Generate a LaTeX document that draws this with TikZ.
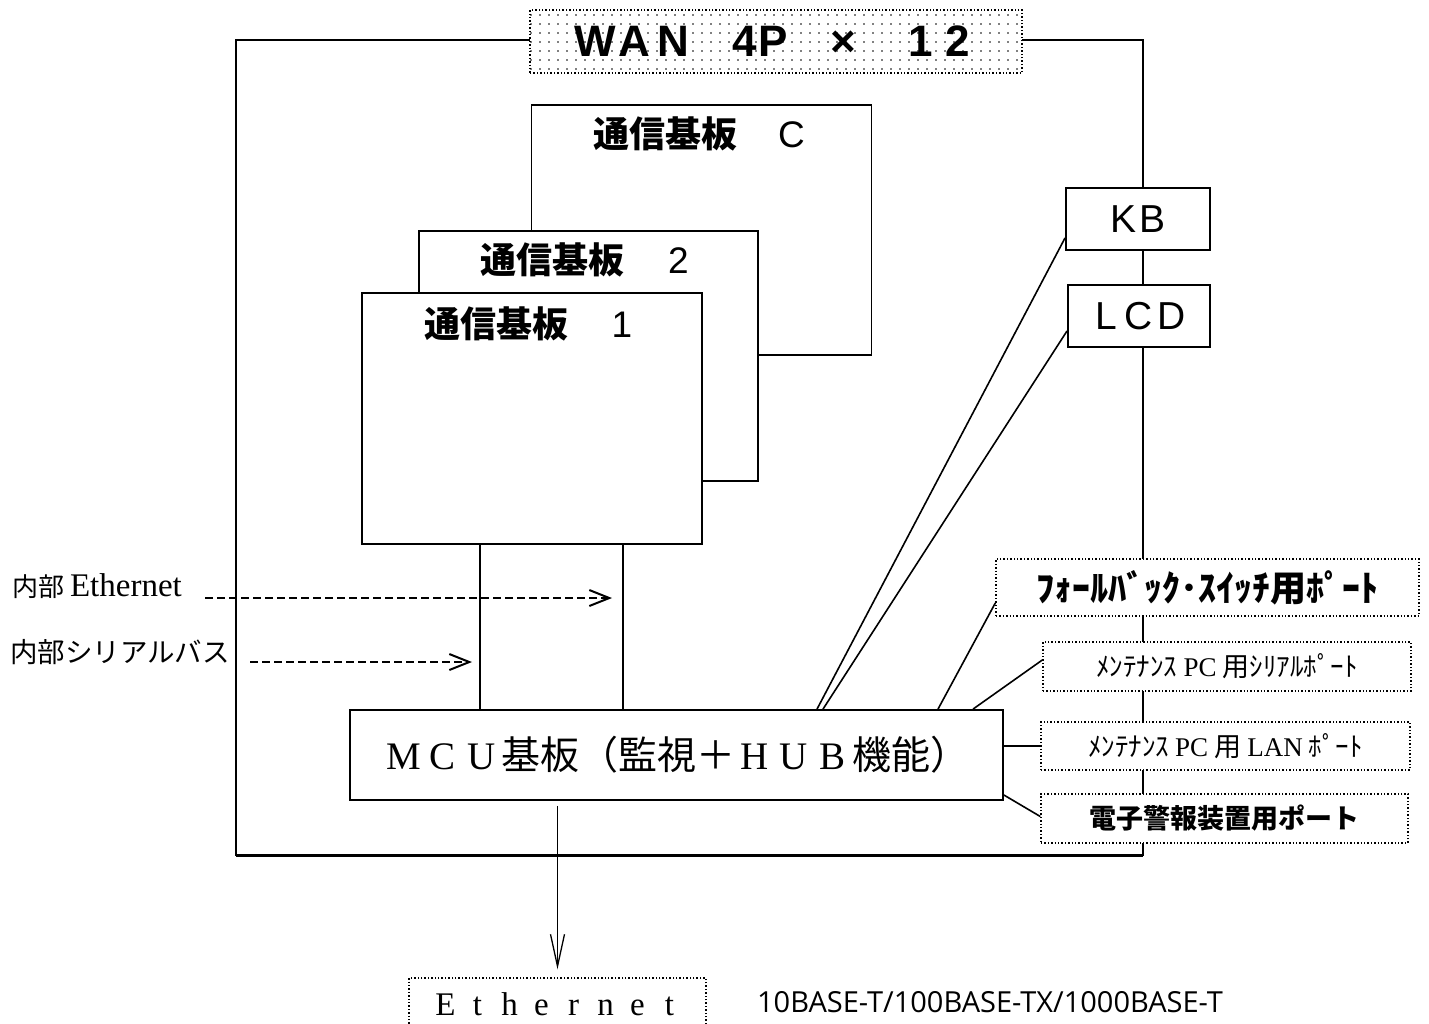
\documentclass[tikz,border=0pt]{standalone}
\usepackage{fontspec}
\setmainfont{Noto Sans CJK JP}
\newfontfamily\jpf{Noto Sans CJK JP}
\newfontfamily\lserif{Liberation Serif}
\newfontfamily\lsans{Liberation Sans}
\newfontfamily\osans{Open Sans}
\usetikzlibrary{arrows.meta,patterns}
\pgfdeclarepatternformonly{mydots}{\pgfqpoint{-1pt}{-1pt}}{\pgfqpoint{1pt}{1pt}}{\pgfqpoint{9pt}{9pt}}{\pgfpathcircle{\pgfqpoint{0pt}{0pt}}{0.8pt}\pgfusepath{fill}}
\newcommand\fsz[1]{\fontsize{#1}{#1}\selectfont}
\newcommand\fw[2]{\makebox[#1]{#2}}
\newcommand\bnum[1]{{\mdseries\lsans\fsz{37pt}#1}}
\begin{document}
\begin{tikzpicture}[x=1pt,y=-1pt,
  box/.style={draw, line width=1.8pt, fill=white, inner sep=0pt},
  dbox/.style={draw, dotted, line width=1.4pt, fill=white, inner sep=0pt},
  board/.style={box, minimum width=340pt, minimum height=250pt},
  blabel/.style={font=\bfseries\fsz{36pt}, inner sep=0pt},
  txt/.style={inner sep=0pt},
  conn/.style={line width=1.6pt},
  dasharrow/.style={line width=2pt, dash pattern=on 8pt off 4pt, -{Straight Barb[length=20pt,width=16pt,line width=2pt]}},
  downarrow/.style={line width=1.3pt, -{Straight Barb[length=32pt,width=14pt,line width=1.3pt]}}]
\useasboundingbox (0,0) rectangle (1429,1023);
\clip (0,0) rectangle (1429,1023);
% outer frame
\draw[line width=2pt] (236,40) rectangle (1143,855);
\draw[line width=3pt] (236,855) -- (1143,855);
% WAN
\node[draw, dotted, line width=1.4pt, inner sep=0pt, preaction={fill=white}, pattern=mydots, pattern color=black,
  minimum width=492pt, minimum height=63pt] (wan) at (776,41.5)
  {\lsans\bfseries\fsz{44pt}\fw{39pt}{W}\fw{39pt}{A}\fw{39pt}{N}\hspace{38.5pt}\fw{28pt}{4}\fw{28pt}{P}\hspace{36.5pt}\fw{39pt}{×}\hspace{40pt}\fw{37pt}{1}\fw{37pt}{2}};
% boards
\node[board] (bC) at (701.5,230) {};
\node[blabel] (tC) at ([yshift=-30pt]bC.north) {通信基板　\fw{36pt}{\bnum{C}}};
\node[board, minimum width=339pt] (b2) at (588.5,356) {};
\node[blabel] (t2) at ([yshift=-30pt]b2.north) {通信基板　\fw{36pt}{\bnum{2}}};
\node[board, minimum height=251pt] (b1) at (532,418.5) {};
\node[blabel] (t1) at ([yshift=-32pt]b1.north) {通信基板　\fw{36pt}{\bnum{1}}};
% KB, LCD
\node[box, line width=2pt, minimum width=144pt, minimum height=62pt] (kb) at (1138,219)
  {\lsans\fsz{39pt}\fw{30pt}{K}\fw{30pt}{B}};
\node[box, line width=2pt, minimum width=142pt, minimum height=62pt] (lcd) at (1139,316)
  {\lsans\fsz{39pt}\fw{33pt}{L}\fw{33pt}{C}\fw{33pt}{D}};
% ports
\node[dbox, minimum width=423pt, minimum height=57pt] (fb) at (1207.5,587.5)
  {\bfseries\fsz{36pt}ﾌｫｰﾙﾊﾞｯｸ･ｽｲｯﾁ用ﾎﾟｰﾄ};
\node[dbox, minimum width=368pt, minimum height=49pt] (ser) at (1227,666.5)
  {\fsz{27pt}ﾒﾝﾃﾅﾝｽ {\lserif PC} 用ｼﾘｱﾙﾎﾟｰﾄ};
\node[dbox, minimum width=369pt, minimum height=48pt] (lan) at (1225.5,746)
  {\fsz{27pt}ﾒﾝﾃﾅﾝｽ {\lserif PC} 用 {\lserif LAN} ﾎﾟｰﾄ};
\node[dbox, minimum width=367pt, minimum height=49pt] (alm) at (1224.5,818.5)
  {\bfseries\fsz{27pt}電子警報装置用ポート};
% MCU
\node[box, minimum width=653pt, minimum height=90pt] (mcu) at (676.5,755)
  {\fsz{39pt}{\lserif\fw{39pt}{M}\fw{39pt}{C}\fw{39pt}{U}}基板（監視＋{\lserif\fw{39pt}{H}\fw{39pt}{U}\fw{39pt}{B}}機能）};
% Ethernet out
\node[dbox, minimum width=297pt, minimum height=62pt] (eth) at (557.5,1009) {};
\node[txt] (etht) at (557.5,1004) {\lserif\fsz{33pt}\fw{32pt}{E}\fw{32pt}{t}\fw{32pt}{h}\fw{32pt}{e}\fw{32pt}{r}\fw{32pt}{n}\fw{32pt}{e}\fw{32pt}{t}};
\node[txt] (spd) at (990,1002) {\osans\fsz{29pt}10BASE-T/100BASE-TX/1000BASE-T};
% left labels
\node[txt, anchor=west] (lE) at (12,586) {\fsz{26pt}内部 {\lserif\fsz{33pt}Ethernet}};
\node[txt, anchor=west] (lS) at (10,652) {\fsz{27.5pt}内部シリアルバス};
% connectors
\coordinate (xa) at (480,0);
\coordinate (xb) at (623,0);
\draw[conn] (b1.south -| xa) -- (mcu.north -| xa);
\draw[conn] (b1.south -| xb) -- (mcu.north -| xb);
\draw[conn] ([yshift=-19pt]kb.west) -- ([xshift=140.5pt]mcu.north);
\draw[conn] ([yshift=-15pt]lcd.west) -- ([xshift=146.5pt]mcu.north);
\draw[conn] ([yshift=-15.5pt]fb.west) -- ([xshift=261.5pt]mcu.north);
\draw[conn] ([yshift=6.5pt]ser.west) -- ([xshift=296.5pt]mcu.north);
\draw[conn] (lan.west -| mcu.east) -- (lan.west);
\draw[conn] ([yshift=-40pt]mcu.east) -- ([yshift=2pt]alm.west);
\draw[downarrow] ([yshift=-5pt]mcu.south -| eth.north) -- ([yshift=8pt]eth.north);
\coordinate (sE) at (205,598);
\coordinate (eE) at (612,598);
\coordinate (sS) at (250,662);
\coordinate (eS) at (472,662);
\draw[dasharrow] (sE) -- (eE);
\draw[dasharrow] (sS) -- (eS);
\end{tikzpicture}
\end{document}
